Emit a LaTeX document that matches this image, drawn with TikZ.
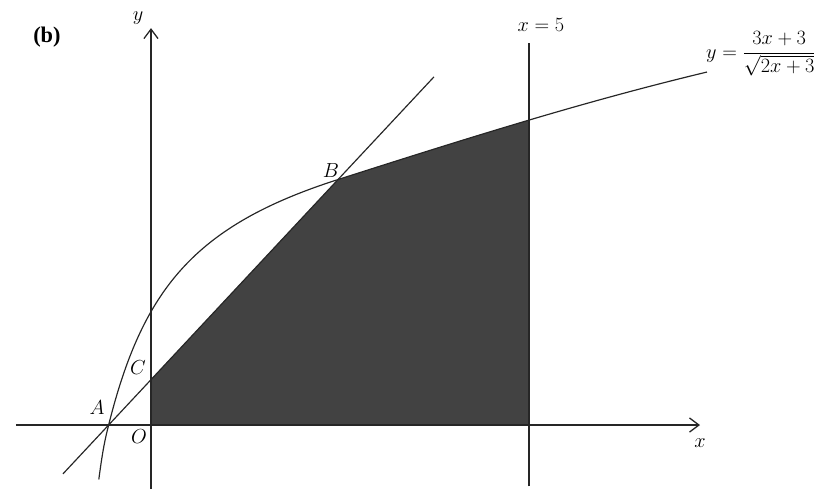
\documentclass[tikz,border=0pt]{standalone}
\usepackage{fontspec}
\setmainfont{Liberation Serif}
\usetikzlibrary{arrows.meta}

\begin{document}
\begin{tikzpicture}[x=2.26cm, y=2.26cm,
  every node/.style={font=\fontsize{16}{19}\selectfont, inner sep=0pt},
  axis/.style={line width=1.2pt, draw=black!85,
               -{Straight Barb[length=8pt, width=12pt, line width=1.1pt]}},
  graph/.style={line width=1pt, draw=black!85},
  shaded/.style={fill=black!74}
]
\useasboundingbox (-1.997,-0.847) rectangle (8.889,5.622);

\coordinate (O) at (0,0);
\coordinate (A) at (-0.56,0);
\coordinate (C) at (0,0.6);
\coordinate (B) at (2.474,3.247);
\coordinate (lineS) at (-1.164,-0.646);
\coordinate (lineE) at (3.743,4.605);
\coordinate (vS) at (5,-0.81);
\coordinate (vE) at (5,5.05);
\coordinate (xS) at (-1.786,0);
\coordinate (xE) at (7.262,0);
\coordinate (yS) at (0,-0.847);
\coordinate (yE) at (0,5.25);
\coordinate (cS) at (-0.69,-0.72);
\coordinate (cE) at (7.354,4.669);

% region between the line, the curve and x = 5
\begin{scope}
  \clip (0,0) rectangle (5,6);
  \fill[shaded] (O) -- (C) -- (B) .. controls (4.274,3.823) and (5.754,4.285) .. (cE)
    -- (7.354,0) -- cycle;
\end{scope}

\draw[graph] (cS) .. controls (-0.635,-0.3) and (-0.6,-0.16) .. (A)
  .. controls (-0.11,1.8) and (0.574,2.639) .. (B)
  .. controls (4.274,3.823) and (5.754,4.285) .. (cE);
\draw[graph] (lineS) -- (lineE);
\draw[graph] (vS) -- (vE);
\draw[axis] (xS) -- (xE);
\draw[axis] (yS) -- (yE);

\node[font=\fontsize{19}{22}\selectfont\bfseries] (part) at (-1.376,5.132) {(b)};
\node (ylab) at (-0.172,5.384) {$y$};
\node (xlab) at (7.262,-0.238) {$x$};
\node (vlab) at (5.159,5.291) {$x=5$};
\node[anchor=west] (eqn) at (7.341,4.907) {$y=\displaystyle\frac{3x+3}{\sqrt{2x+3}}$};
\node (Alab) at (-0.714,0.225) {$A$};
\node (Blab) at (2.38,3.37) {$B$};
\node (Clab) at (-0.172,0.754) {$C$};
\node (Olab) at (-0.159,-0.159) {$O$};
\end{tikzpicture}
\end{document}
